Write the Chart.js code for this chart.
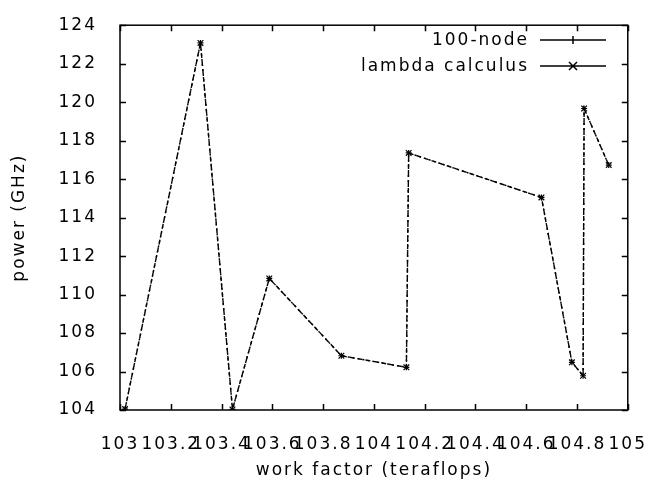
<!DOCTYPE html>
<html>
<head>
<meta charset="utf-8">
<script src="https://cdn.jsdelivr.net/npm/chart.js@4"></script>
<style>
  html, body { margin: 0; padding: 0; background: #fff; }
  #wrap { width: 660px; height: 488px; }
</style>
</head>
<body>
<div id="wrap"><canvas id="chart" width="660" height="488"></canvas></div>
<script>
// data
const workFactor  = [103.02, 103.317, 103.443, 103.588, 103.872, 104.128, 104.137, 104.66, 104.78, 104.824, 104.828, 104.925];
const powerNode   = [104.05, 123.08, 104.03, 110.84, 106.82, 106.22, 117.36, 115.05, 106.48, 105.78, 119.67, 116.73];
const powerLambda = [104.05, 123.08, 104.03, 110.84, 106.82, 106.22, 117.36, 115.05, 106.48, 105.78, 119.67, 116.73];
const xTicks = [103, 103.2, 103.4, 103.6, 103.8, 104, 104.2, 104.4, 104.6, 104.8, 105];
const yTicks = [104, 106, 108, 110, 112, 114, 116, 118, 120, 122, 124];
const seriesNames = ['100-node', 'lambda calculus'];

const FONT = { family: "'DejaVu Sans', sans-serif", size: 17 };
const SPACING = '2px';
const INK = '#000';

// gnuplot look: frame, inward ticks on all sides, legend on the right
const gnuFrame = {
    id: 'gnuFrame',
    beforeDraw(chart) {
        chart.ctx.letterSpacing = SPACING;
    },
    afterDraw(chart) {
        const { ctx, chartArea: a, scales } = chart;
        ctx.save();
        ctx.strokeStyle = INK;
        ctx.lineWidth = 1.5;
        ctx.strokeRect(a.left, a.top, a.right - a.left, a.bottom - a.top);

        const tl = 6;
        ctx.beginPath();
        xTicks.forEach(v => {
            const px = Math.round(scales.x.getPixelForValue(v)) + 0.5;
            ctx.moveTo(px, a.bottom); ctx.lineTo(px, a.bottom - tl);
            ctx.moveTo(px, a.top);    ctx.lineTo(px, a.top + tl);
        });
        yTicks.forEach(v => {
            const py = Math.round(scales.y.getPixelForValue(v)) + 0.5;
            ctx.moveTo(a.left, py);  ctx.lineTo(a.left + tl, py);
            ctx.moveTo(a.right, py); ctx.lineTo(a.right - tl, py);
        });
        ctx.stroke();

        // legend
        ctx.letterSpacing = SPACING;
        ctx.font = FONT.size + 'px ' + FONT.family;
        ctx.fillStyle = INK;
        ctx.textAlign = 'right';
        ctx.textBaseline = 'middle';
        const rows = [40, 66];
        seriesNames.forEach((name, i) => {
            const y = rows[i];
            ctx.fillText(name, 529, y + 1);
            ctx.lineWidth = 1.5;
            ctx.beginPath();
            ctx.moveTo(540, y); ctx.lineTo(606, y);
            const m = 4, cx = 573;
            if (i === 0) {
                ctx.moveTo(cx, y - m); ctx.lineTo(cx, y + m);
            } else {
                ctx.moveTo(cx - m, y - m); ctx.lineTo(cx + m, y + m);
                ctx.moveTo(cx - m, y + m); ctx.lineTo(cx + m, y - m);
            }
            ctx.stroke();
        });
        ctx.restore();
    }
};

const pts = ys => workFactor.map((x, i) => ({ x: x, y: ys[i] }));

new Chart(document.getElementById('chart'), {
    type: 'scatter',
    data: {
        datasets: [
            {
                label: seriesNames[0], data: pts(powerNode), showLine: true,
                borderColor: INK, borderWidth: 1.4, borderDash: [2, 3],
                pointStyle: 'cross', pointRadius: 3, pointBorderColor: INK, pointBorderWidth: 1.2
            },
            {
                label: seriesNames[1], data: pts(powerLambda), showLine: true,
                borderColor: INK, borderWidth: 1.4, borderDash: [5, 3],
                pointStyle: 'crossRot', pointRadius: 4, pointBorderColor: INK, pointBorderWidth: 1.2
            }
        ]
    },
    options: {
        responsive: false,
        animation: false,
        devicePixelRatio: 1,
        layout: { padding: { top: 20, right: 24, left: 0, bottom: 0 } },
        plugins: { legend: { display: false }, tooltip: { enabled: false } },
        scales: {
            x: {
                type: 'linear', min: 103, max: 105,
                grid: { display: false }, border: { display: false },
                afterBuildTicks: s => { s.ticks = xTicks.map(v => ({ value: v })); },
                afterFit: s => { s.height = 78; },
                ticks: {
                    autoSkip: false, maxRotation: 0, padding: 16,
                    color: INK, font: FONT,
                    callback: v => String(Math.round(v * 10) / 10)
                },
                title: { display: true, text: 'work factor (teraflops)', color: INK, font: FONT, padding: { top: 0, bottom: 7 } }
            },
            y: {
                min: 104, max: 124,
                grid: { display: false }, border: { display: false },
                afterBuildTicks: s => { s.ticks = yTicks.map(v => ({ value: v })); },
                afterFit: s => { s.width = 120; },
                ticks: { padding: 15, color: INK, font: FONT },
                title: { display: true, text: 'power (GHz)', color: INK, font: FONT, padding: { top: 9, bottom: 0 } }
            }
        }
    },
    plugins: [gnuFrame]
});
</script>
</body>
</html>
